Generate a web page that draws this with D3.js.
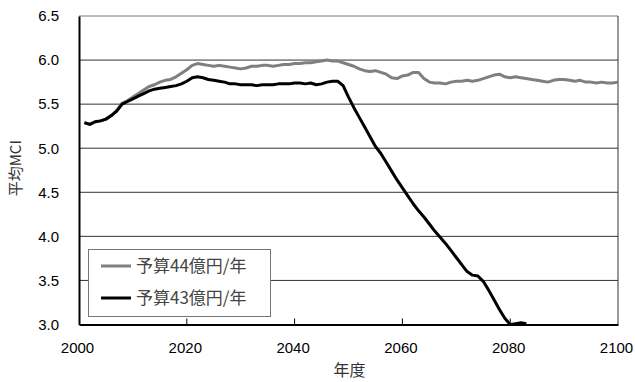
<!DOCTYPE html>
<html><head><meta charset="utf-8">
<script src="https://cdn.jsdelivr.net/npm/d3@7"></script>
<style>body{margin:0;background:#fff}svg{display:block}</style>
</head><body>
<svg id="c" width="635" height="382"></svg>
<script>
const seriesNames = ["予算44億円/年", "予算43億円/年"];
const xTicks = [2000, 2020, 2040, 2060, 2080, 2100];
const yTicks = [3.0, 3.5, 4.0, 4.5, 5.0, 5.5, 6.0, 6.5];

const yearsGray = d3.range(2001, 2101);
const valuesGray = [
 5.29,5.27,5.30,5.31,5.33,5.37,5.43,5.51,5.54,5.58,
 5.62,5.66,5.70,5.72,5.75,5.77,5.78,5.81,5.85,5.89,
 5.94,5.96,5.95,5.94,5.93,5.94,5.93,5.92,5.91,5.90,
 5.91,5.93,5.93,5.94,5.94,5.93,5.94,5.95,5.95,5.96,
 5.96,5.97,5.97,5.98,5.99,6.00,5.99,5.99,5.97,5.95,
 5.93,5.90,5.88,5.87,5.88,5.86,5.84,5.80,5.79,5.82,
 5.83,5.86,5.86,5.79,5.75,5.74,5.74,5.73,5.75,5.76,
 5.76,5.77,5.76,5.77,5.79,5.81,5.83,5.84,5.81,5.80,
 5.81,5.80,5.79,5.78,5.77,5.76,5.75,5.77,5.78,5.78,
 5.77,5.76,5.77,5.75,5.75,5.74,5.75,5.74,5.74,5.75
];
const yearsBlack = d3.range(2001, 2084);
const valuesBlack = [
 5.29,5.27,5.30,5.31,5.33,5.37,5.42,5.50,5.53,5.56,
 5.59,5.62,5.65,5.67,5.68,5.69,5.70,5.71,5.73,5.76,
 5.80,5.81,5.80,5.78,5.77,5.76,5.75,5.73,5.73,5.72,
 5.72,5.72,5.71,5.72,5.72,5.72,5.73,5.73,5.73,5.74,
 5.74,5.73,5.74,5.72,5.73,5.75,5.76,5.76,5.71,5.58,
 5.46,5.35,5.24,5.13,5.02,4.94,4.84,4.74,4.64,4.55,
 4.46,4.37,4.29,4.22,4.14,4.06,3.99,3.92,3.84,3.76,
 3.68,3.60,3.56,3.55,3.49,3.39,3.28,3.17,3.07,3.00,
 3.01,3.02,3.01
];

const svg = d3.select("#c");
const L = 79, R = 618, T = 16, B = 324.5;
const x = d3.scaleLinear().domain([2000, 2100]).range([L, R]);
const y = d3.scaleLinear().domain([3.0, 6.5]).range([B, T]);

// gridlines
svg.append("g").selectAll("line").data(yTicks.slice(1)).join("line")
  .attr("x1", L).attr("x2", R).attr("y1", d => y(d)).attr("y2", d => y(d))
  .attr("stroke", d => d === 6.5 ? "#777" : "#333").attr("stroke-width", 1);
// right border
svg.append("line").attr("x1", R).attr("x2", R).attr("y1", T).attr("y2", B)
  .attr("stroke", "#333").attr("stroke-width", 1);

// series
const line = d3.line().x(d => x(d[0])).y(d => y(d[1]));
svg.append("path").datum(d3.zip(yearsGray, valuesGray)).attr("d", line)
  .attr("fill", "none").attr("stroke", "#7f7f7f").attr("stroke-width", 3).attr("stroke-linejoin", "round");
svg.append("path").datum(d3.zip(yearsBlack, valuesBlack)).attr("d", line)
  .attr("fill", "none").attr("stroke", "#000").attr("stroke-width", 3).attr("stroke-linejoin", "round");

// axes
const xAxis = svg.append("g").attr("transform", `translate(0,${B})`)
  .call(d3.axisBottom(x).tickValues(xTicks).tickSize(0).tickPadding(18).tickFormat(d3.format("d")));
xAxis.select(".domain").attr("stroke", "#000").attr("stroke-width", 2);
xAxis.selectAll("text").attr("font-family", "Liberation Sans, Arial, sans-serif").attr("font-size", 15).attr("fill", "#000").attr("dx", -2);
svg.append("g").selectAll("line").data(xTicks.slice(1, -1)).join("line")
  .attr("x1", d => x(d)).attr("x2", d => x(d)).attr("y1", B).attr("y2", B - 6)
  .attr("stroke", "#000").attr("stroke-width", 1);

const yAxis = svg.append("g").attr("transform", `translate(${L},0)`)
  .call(d3.axisLeft(y).tickValues(yTicks).tickSize(0).tickPadding(20).tickFormat(d3.format(".1f")));
yAxis.select(".domain").attr("stroke", "#000").attr("stroke-width", 2);
yAxis.selectAll("text").attr("font-family", "Liberation Sans, Arial, sans-serif").attr("font-size", 15).attr("fill", "#000");

// axis titles
svg.append("text").attr("x", (L + R) / 2 + 1).attr("y", 376)
  .attr("text-anchor", "middle").attr("font-family", "Noto Sans CJK JP").attr("font-size", 16).attr("fill", "#333")
  .text("年度");
svg.append("text").attr("transform", `translate(21,${(T + B) / 2 - 2}) rotate(-90)`)
  .attr("text-anchor", "middle").attr("font-family", "Noto Sans CJK JP").attr("font-size", 15).attr("fill", "#333")
  .text("平均MCI");

// legend
const lg = svg.append("g");
lg.append("rect").attr("x", 88.5).attr("y", 249.5).attr("width", 182).attr("height", 67)
  .attr("fill", "#fff").attr("stroke", "#777").attr("stroke-width", 1);
const colors = ["#7f7f7f", "#000"];
seriesNames.forEach((n, i) => {
  const yy = 266 + i * 32;
  lg.append("line").attr("x1", 101).attr("x2", 131).attr("y1", yy).attr("y2", yy)
    .attr("stroke", colors[i]).attr("stroke-width", 3);
  lg.append("text").attr("x", 136).attr("y", yy).attr("dy", "0.36em")
    .attr("font-family", "Noto Sans CJK JP").attr("font-size", 17).attr("fill", "#444").text(n);
});
</script>
</body></html>
